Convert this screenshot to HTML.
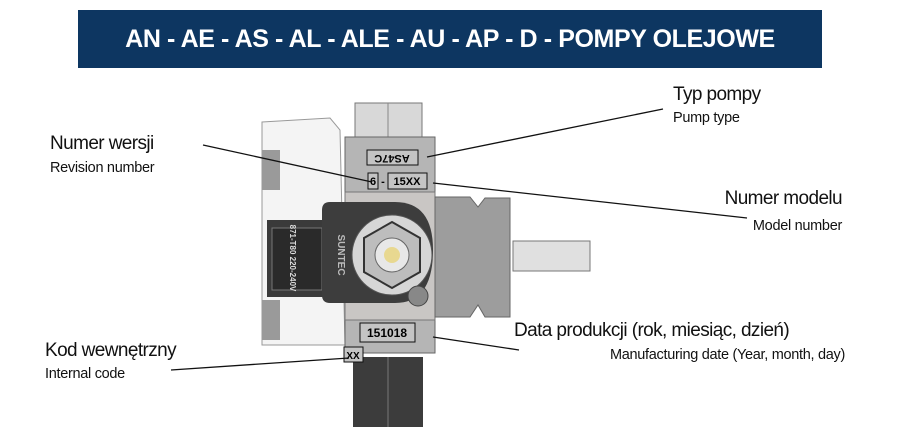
<!DOCTYPE html>
<html><head><meta charset="utf-8"><style>
html,body{margin:0;padding:0;background:#fff;}
body{width:900px;height:438px;overflow:hidden;position:relative;font-family:"Liberation Sans","Noto Sans CJK SC",sans-serif;}
.hd{position:absolute;left:78px;top:10px;width:744px;height:58px;background:#0d3661;color:#fff;font-weight:bold;font-size:25px;text-align:center;line-height:58px;letter-spacing:-0.4px;}
.t{position:absolute;color:#111;white-space:nowrap;}
.b{font-size:19px;letter-spacing:-0.6px;}
.s{font-size:14.5px;letter-spacing:-0.3px;}
</style></head><body>
<div class="hd">AN - AE - AS - AL - ALE - AU - AP - D - POMPY OLEJOWE</div>
<svg width="900" height="438" style="position:absolute;left:0;top:0" xmlns="http://www.w3.org/2000/svg">
<path d="M262 122 L330 118 L340 130 L345 345 L262 345 Z" fill="#f4f4f4" stroke="#999" stroke-width="1"/>
<rect x="262" y="150" width="18" height="40" fill="#9a9a9a"/>
<rect x="262" y="300" width="18" height="40" fill="#9a9a9a"/>
<rect x="355" y="103" width="67" height="34" fill="#d8d8d8" stroke="#777"/>
<line x1="388" y1="103" x2="388" y2="137" stroke="#888"/>
<rect x="345" y="137" width="90" height="216" fill="#b5b5b5" stroke="#666"/>
<rect x="345" y="192" width="90" height="128" fill="#c9c6c4" stroke="#777"/>
<rect x="513" y="241" width="77" height="30" fill="#e0e0e0" stroke="#777"/>
<path d="M435 197 L470 197 L478 207 L485 198 L510 198 L510 317 L485 317 L478 305 L470 317 L435 317 Z" fill="#9d9d9d" stroke="#666"/>
<rect x="267" y="220" width="60" height="77" fill="#3a3a3a"/>
<rect x="272" y="228" width="50" height="62" fill="#2a2a2a" stroke="#777"/>
<path d="M322 210 Q322 202 330 202 L395 202 Q433 202 433 250 Q433 303 395 303 L330 303 Q322 303 322 295 Z" fill="#3d3d3d"/>
<circle cx="392" cy="255" r="40" fill="#d6d6d6" stroke="#555"/>
<polygon points="392,222 420,238 420,272 392,288 364,272 364,238" fill="#bdbdbd" stroke="#333" stroke-width="2"/>
<circle cx="392" cy="255" r="17" fill="#e8e8e8" stroke="#666"/>
<circle cx="392" cy="255" r="8" fill="#e8d890"/>
<circle cx="418" cy="296" r="10" fill="#888" stroke="#444"/>
<rect x="353" y="357" width="70" height="70" fill="#3c3c3c"/>
<line x1="388" y1="357" x2="388" y2="427" stroke="#777"/>
<rect x="367" y="150" width="51" height="15" fill="#c4c4c4" stroke="#111"/>
<text x="392" y="158" font-size="11" font-weight="bold" text-anchor="middle" transform="rotate(180 392 158)" dominant-baseline="middle" font-family="Liberation Sans">AS47C</text>
<rect x="368" y="173" width="10" height="16" fill="#c4c4c4" stroke="#111"/>
<text x="373" y="185" font-size="11" font-weight="bold" text-anchor="middle">6</text>
<text x="383" y="185" font-size="11" font-weight="bold" text-anchor="middle">-</text>
<rect x="388" y="173" width="39" height="16" fill="#c4c4c4" stroke="#111"/>
<text x="407" y="185" font-size="11" font-weight="bold" text-anchor="middle">15XX</text>
<rect x="360" y="323" width="55" height="19" fill="#c4c4c4" stroke="#111"/>
<text x="387" y="337" font-size="12" font-weight="bold" text-anchor="middle">151018</text>
<rect x="344" y="347" width="19" height="15" fill="#c4c4c4" stroke="#111"/>
<text x="353" y="359" font-size="10" font-weight="bold" text-anchor="middle">XX</text>
<text x="290" y="258" font-size="8" fill="#ddd" font-weight="bold" text-anchor="middle" transform="rotate(90 290 258)">871-T80 220-240V</text>
<text x="338" y="255" font-size="10" fill="#bbb" font-weight="bold" text-anchor="middle" transform="rotate(90 338 255)">SUNTEC</text>
<g stroke="#111" stroke-width="1.3">
<line x1="203" y1="145" x2="372" y2="182"/>
<line x1="663" y1="109" x2="427" y2="157"/>
<line x1="433" y1="183" x2="747" y2="218"/>
<line x1="433" y1="337" x2="519" y2="350"/>
<line x1="349" y1="358" x2="171" y2="370"/>
</g>
</svg>
<div class="t b" style="left:673px;top:84px">Typ pompy</div>
<div class="t s" style="left:673px;top:110px">Pump type</div>
<div class="t b" style="left:50px;top:133px">Numer wersji</div>
<div class="t s" style="left:50px;top:160px">Revision number</div>
<div class="t b" style="right:58px;top:188px">Numer modelu</div>
<div class="t s" style="right:58px;top:218px">Model number</div>
<div class="t b" style="left:514px;top:320px">Data produkcji (rok, miesiąc, dzień)</div>
<div class="t s" style="right:55px;top:347px">Manufacturing date (Year, month, day)</div>
<div class="t b" style="left:45px;top:340px">Kod wewnętrzny</div>
<div class="t s" style="left:45px;top:366px">Internal code</div>
</body></html>
